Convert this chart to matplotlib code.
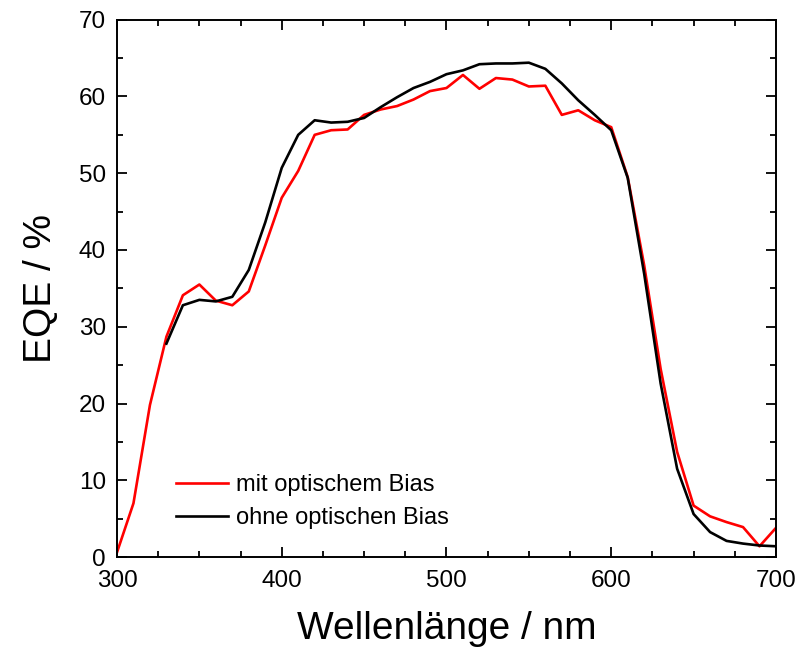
import matplotlib
matplotlib.use('Agg')
import matplotlib.pyplot as plt
from matplotlib.ticker import MultipleLocator

plt.rcParams['font.family'] = ['Liberation Sans', 'DejaVu Sans']

# Wellenlänge in nm
wl_mit = [300, 310, 320, 330, 340, 350, 360, 370, 380, 390, 400, 410, 420, 430, 440,
          450, 460, 470, 480, 490, 500, 510, 520, 530, 540, 550, 560, 570, 580, 590,
          600, 610, 620, 630, 640, 650, 660, 670, 680, 690, 700]
eqe_mit = [0.6, 7.0, 19.8, 28.7, 34.1, 35.5, 33.4, 32.8, 34.6, 40.6, 46.8, 50.3, 55.0, 55.6, 55.7,
           57.6, 58.3, 58.75, 59.6, 60.7, 61.1, 62.8, 61.0, 62.4, 62.2, 61.3, 61.4, 57.6, 58.2, 56.9,
           56.0, 49.5, 38.0, 24.5, 13.7, 6.7, 5.3, 4.55, 3.9, 1.4, 3.8]

wl_ohne = [330, 340, 350, 360, 370, 380, 390, 400, 410, 420, 430, 440, 450, 460, 470,
           480, 490, 500, 510, 520, 530, 540, 550, 560, 570, 580, 590, 600, 610, 620,
           630, 640, 650, 660, 670, 680, 690, 700]
eqe_ohne = [27.8, 32.8, 33.5, 33.3, 33.9, 37.4, 43.6, 50.7, 55.0, 56.9, 56.6, 56.7, 57.2, 58.6, 59.9,
            61.1, 61.9, 62.9, 63.4, 64.2, 64.3, 64.3, 64.4, 63.6, 61.7, 59.5, 57.6, 55.6, 49.4, 36.9,
            22.6, 11.5, 5.6, 3.25, 2.1, 1.75, 1.5, 1.4]

fig = plt.figure(figsize=(7.98, 6.48), dpi=100)
ax = fig.add_axes([0.1466, 0.1404, 0.8258, 0.8292])

ax.plot(wl_mit, eqe_mit, color='#ff0000', lw=1.9, label='mit optischem Bias')
ax.plot(wl_ohne, eqe_ohne, color='black', lw=1.9, label='ohne optischen Bias')

ax.set_xlim(300, 700)
ax.set_ylim(0, 70)
ax.xaxis.set_major_locator(MultipleLocator(100))
ax.xaxis.set_minor_locator(MultipleLocator(25))
ax.yaxis.set_major_locator(MultipleLocator(10))
ax.yaxis.set_minor_locator(MultipleLocator(5))
ax.tick_params(which='both', direction='in', top=True, right=True, width=1.3)
ax.tick_params(which='major', length=7, labelsize=17.5)
ax.tick_params(axis='x', which='major', pad=9)
ax.tick_params(axis='y', which='major', pad=8)
ax.tick_params(which='minor', length=4)
for s in ax.spines.values():
    s.set_linewidth(1.4)

ax.set_xlabel('Wellenlänge / nm', fontsize=28, labelpad=14)
ax.set_ylabel('EQE / %', fontsize=28, labelpad=14)

ax.legend(loc='lower left', bbox_to_anchor=(0.072, 0.03), frameon=False, fontsize=17,
          handlelength=2.2, handletextpad=0.35, labelspacing=0.45, borderpad=0)

fig.savefig('out.png', dpi=100)
